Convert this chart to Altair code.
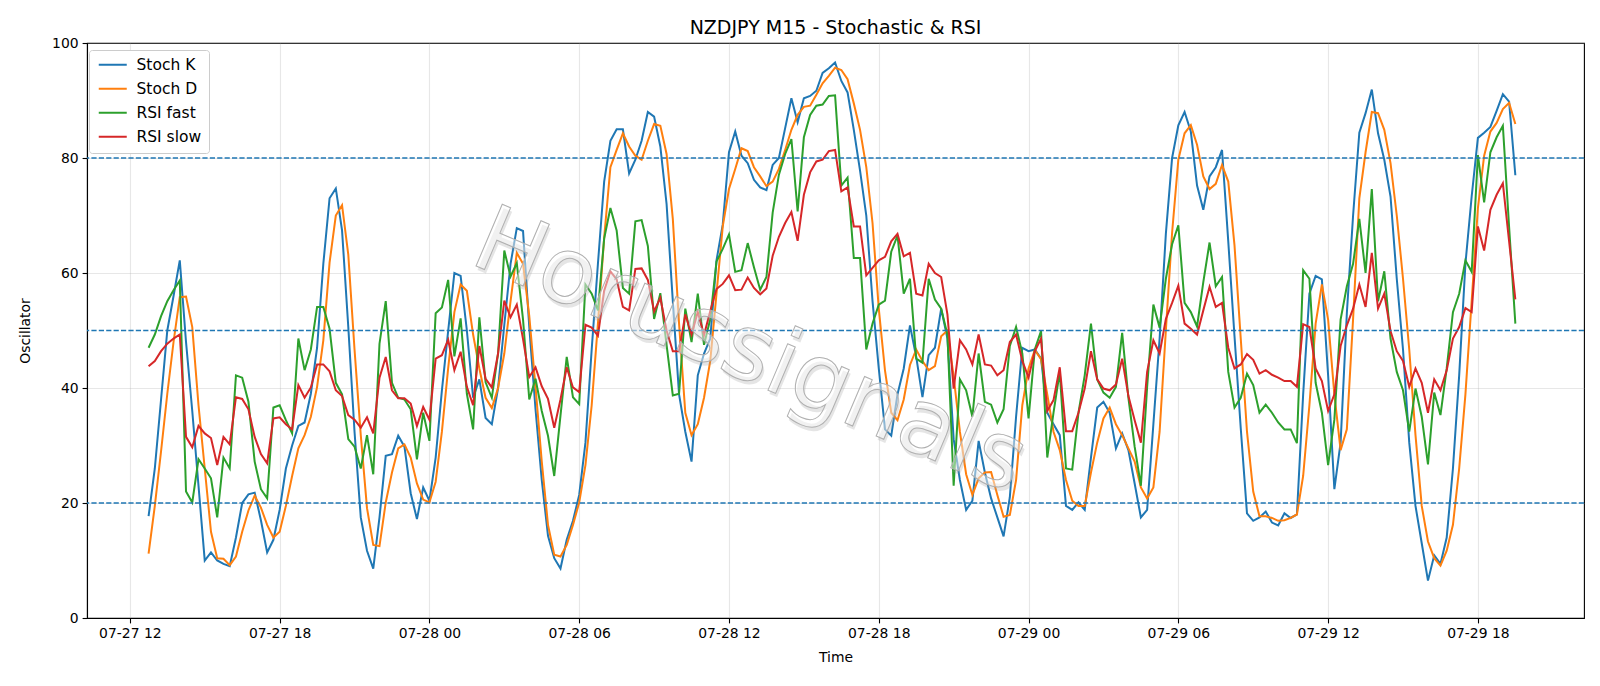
import altair as alt
import pandas as pd

# ---- oscillator values, one point every 15 minutes from 2025-07-27 12:45 ----
START = "2025-07-27 12:45"

STOCH_K = [
    17.7, 26, 38, 50, 56, 62.2, 48, 36, 23, 10,
    11.4, 10, 9.4, 9, 14, 20, 21.5, 21.8, 17, 11.4,
    13.6, 18.8, 26, 30, 33.4, 34, 39, 47, 61.6, 73,
    74.7, 67.4, 50.6, 32.4, 17.5, 11.7, 8.6, 17.5, 28.2, 28.5,
    31.7, 29.8, 21.7, 17.2, 22.7, 20.4, 27.9, 39.6, 49.9, 60,
    59.5, 50, 38.3, 41.5, 34.8, 33.7, 40, 51, 61.6, 67.8,
    67.3, 50.6, 36.3, 24, 14.3, 10.4, 8.6, 13.6, 16.9, 21.4,
    30.5, 46.7, 61.6, 75.9, 83, 85, 85, 77.3, 79.7, 83,
    88, 87.2, 82, 72, 55.1, 38.9, 32.4, 27.2, 42.2, 46,
    48.6, 62.2, 68.4, 81, 84.6, 80.4, 79.1, 76.2, 74.9, 74.4,
    78.8, 80, 85.2, 90.4, 86.2, 90.4, 90.8, 91.7, 94.8, 95.6,
    96.6, 93.4, 91.4, 84.9, 77.8, 70, 55.1, 43.4, 32.8, 31.7,
    38.9, 43.4, 50.9, 45.4, 38.4, 45.7, 47, 53.8, 48.6, 31.1,
    24, 18.8, 20.4, 30.8, 25.3, 20.8, 17.5, 14.2, 21, 35,
    47, 46.4, 46.7, 45.1, 35.7, 33.7, 31.8, 19.5, 18.8, 20.1,
    18.8, 27.9, 36.6, 37.6, 35.7, 29.5, 32.1, 29.2, 23.4, 17.5,
    18.8, 33.7, 48.6, 66.8, 80, 85.7, 88, 84.6, 75.2, 71,
    76.8, 78.4, 81.4, 65.5, 49, 33, 18.2, 16.9, 17.5, 18.5,
    16.6, 16.1, 18.2, 17.4, 18, 38.9, 56.4, 59.5, 58.9, 42.2,
    22.4, 30.5, 53, 70, 84.4, 87.8, 91.9, 84.3, 79.7, 73.3,
    59, 46.7, 30.5, 19.5, 13, 6.5, 10.9, 9.4, 14, 26,
    42.2, 61.6, 73.3, 83.5, 84.4, 85.4, 88.2, 91.1, 89.8, 77,
]

STOCH_D = [
    11.2, 19.5, 29, 39, 48, 55.8, 55.9, 50.6, 37, 26,
    15, 10.4, 10.3, 9.2, 10.7, 15, 18.7, 21.3, 19.2, 16.2,
    14, 15, 19.5, 24.7, 29.5, 31.8, 35, 40.2, 48.3, 61.8,
    70, 71.8, 63.2, 46.7, 31.8, 19.1, 12.7, 12.5, 20.1, 25.3,
    29.5, 30.2, 27.9, 23.4, 20.6, 20.1, 23.7, 32.4, 43.4, 53.2,
    58, 56.9, 49.3, 43.4, 38.3, 36.5, 40, 46, 55.1, 63.5,
    61.6, 52.5, 40.2, 27.2, 16.2, 11, 10.7, 12.7, 16.2, 20.1,
    26.6, 37, 51.2, 66.1, 78.4, 81.4, 84.3, 82, 80.4, 79.7,
    83, 85.9, 85.6, 80.7, 69.4, 51.2, 35.7, 31.8, 33.7, 38.3,
    44.7, 56.4, 68.1, 74.6, 78.1, 81.7, 81.2, 78.4, 76.8, 75.1,
    75.9, 78.1, 81.4, 84.9, 87.5, 88.9, 89.1, 91, 93, 94.3,
    95.7, 95.3, 93.7, 89.5, 84.9, 78.4, 68.7, 53.8, 43, 35.7,
    34.4, 38, 44, 46.7, 44.7, 43.1, 43.8, 49, 50, 42,
    32.4, 25, 21.4, 24.3, 25.3, 25.4, 21.4, 17.6, 17.9, 24,
    37, 43.4, 46.6, 45, 38.9, 32.4, 29.2, 24, 20.4, 19.5,
    19.5, 25.3, 30.5, 34.7, 36.6, 33.7, 31.8, 29.5, 27.2, 22.7,
    20.8, 22.7, 32.4, 50, 67, 79.7, 84.3, 85.7, 82.3, 76.8,
    74.6, 75.5, 78.8, 75.9, 64.8, 48.6, 32.4, 22, 17.7, 17.7,
    17.4, 16.9, 17, 17.4, 18, 24.7, 37, 51.2, 58, 51.9,
    38.9, 29.2, 32.8, 52, 73, 81, 88, 87.8, 84.9, 79.1,
    70, 59, 46.7, 31.8, 19.5, 13.3, 10.4, 9.1, 11.7, 16.2,
    26, 38.9, 55.1, 71.3, 80.4, 84.6, 86.1, 88.5, 89.6, 85.9,
]

RSI_FAST = [
    47, 49.3, 52.5, 55.1, 57, 58.7, 22, 20.1, 27.6, 26,
    24.3, 17.5, 27.9, 26, 42.2, 41.8, 37.6, 27.2, 22.4, 20.8,
    36.6, 37, 34.4, 32.1, 48.6, 43.1, 46.7, 54.1, 54.1, 50.3,
    40.9, 38.9, 31.1, 29.8, 26, 31.8, 25, 47.7, 55.1, 40.9,
    38.3, 38, 36.3, 27.6, 35.7, 30.8, 53, 54, 58.8, 45.5,
    52.1, 39, 32.8, 52.3, 41, 38.3, 46, 63.9, 59.4, 61.7,
    51.9, 38, 41.6, 36, 31.7, 24.7, 35.2, 45.4, 38.4, 37.2,
    58, 56.4, 53.5, 66, 71.3, 67.4, 57.4, 56.4, 69, 69.2,
    64.7, 52, 56.5, 47.5, 38.7, 39, 53.8, 48, 56.4, 47.5,
    52, 62, 64.2, 66.7, 60.2, 60.5, 65.2, 61, 57.1, 59.3,
    70.5, 77.1, 80.7, 83.3, 70.7, 83.6, 87.5, 89.1, 89.3, 90.8,
    90.9, 75.2, 76.6, 62.6, 62.6, 46.7, 51.2, 54.5, 55.2, 63.7,
    66.5, 56.4, 59, 45.1, 44.4, 59, 55.4, 53.8, 49.3, 23,
    41.5, 39.6, 35, 46, 37.6, 37.1, 34, 36.3, 47.3, 50.6,
    46, 34.7, 46.7, 49.9, 27.9, 35.7, 42.8, 26, 25.8, 35.7,
    42.2, 51.2, 41.5, 39.2, 38.3, 40.2, 49.6, 38.3, 29.8, 23,
    40.2, 54.5, 50.5, 59, 65, 68.3, 54.8, 53.2, 50.7, 58.4,
    65.3, 57.7, 59.3, 42.8, 36.6, 38.3, 42.5, 40.5, 35.7, 37.1,
    35.7, 34, 32.8, 32.8, 30.4, 60.5, 59, 40.9, 35.7, 26.6,
    34.5, 51.9, 57.7, 61.6, 69.4, 60, 74.6, 55.1, 60.3, 48.6,
    42.8, 39.6, 32.4, 39.9, 35, 26.7, 39.2, 35.3, 43.4, 53.2,
    56.4, 62.2, 60.2, 80.5, 72.3, 81, 83.6, 85.6, 68, 51.2,
]

RSI_SLOW = [
    43.8, 44.7, 46.4, 47.7, 48.6, 49.3, 31.5, 29.7, 33.4, 32.1,
    31.3, 26.6, 31.5, 30.2, 38.4, 38.1, 36.3, 31.5, 28.5, 26.9,
    34.7, 34.9, 33.7, 32.8, 40.5, 38.3, 40.1, 44.1, 44.1, 42.9,
    39.6, 38.6, 35.3, 34.5, 33.1, 34.9, 32.1, 41.8, 45.4, 39.6,
    38.2, 38.2, 37.3, 33.4, 36.7, 34.5, 45.1, 45.7, 48.4, 43.1,
    46.3, 40.2, 37, 47.3, 41.6, 40.1, 46, 55.2, 52.3, 54.5,
    48.5, 41.9, 43.6, 40.3, 38.1, 33.1, 38, 43.6, 40.1, 39.3,
    51, 50.5, 49.1, 56.9, 60.3, 58.9, 54.1, 53.5, 60.7, 60.8,
    58.8, 53.3, 55.7, 50, 46.4, 46.4, 52.8, 49.3, 53.2, 49.2,
    53.4, 57.2, 58.1, 59.6, 57, 57.1, 59.2, 57.4, 56.3, 57.3,
    63, 66.3, 68.7, 70.6, 65.6, 73.6, 77.5, 79.4, 79.7, 81.2,
    81.4, 74.2, 74.9, 68.1, 68.1, 59.6, 60.9, 62.2, 62.8, 65.5,
    66.8, 62.9, 63.5, 56.4, 56.1, 61.6, 60, 59.3, 52.8, 39.9,
    48.3, 46.7, 44.1, 49.3, 44.1, 43.9, 42.2, 43.1, 48, 49.3,
    44.7, 41.8, 46.4, 48.6, 36, 37.9, 43.6, 32.5, 32.5, 35.7,
    39.9, 46.4, 41.5, 39.9, 39.6, 40.6, 45.1, 38.6, 34.4, 30.5,
    42.8, 48.3, 46, 52, 54.8, 57.8, 51.2, 50.3, 49.3, 53.5,
    57.6, 54.1, 54.8, 47, 43.4, 44.1, 45.9, 44.9, 42.5, 43.1,
    42.3, 41.8, 41.2, 41.2, 40.2, 51.1, 50.6, 43.4, 41.2, 36,
    38.9, 47.3, 50.9, 53.8, 58, 54.1, 63.5, 53.8, 56.4, 49.9,
    46.4, 44.7, 40.2, 43.4, 40.9, 35.7, 41.5, 39.6, 43.1, 48.6,
    50.6, 53.9, 53.2, 68.1, 63.9, 71, 73.6, 75.6, 65.5, 55.4,
]

SERIES = ["Stoch K", "Stoch D", "RSI fast", "RSI slow"]
COLORS = ["#1f77b4", "#ff7f0e", "#2ca02c", "#d62728"]
LEVELS = [20, 50, 80]
Y_TICKS = [0, 20, 40, 60, 80, 100]
X_TICKS = [(27, 12), (27, 18), (28, 0), (28, 6), (28, 12), (28, 18),
           (29, 0), (29, 6), (29, 12), (29, 18)]
TITLE = "NZDJPY M15 - Stochastic & RSI"
WATERMARK = "Horussignals"

FONT = "DejaVu Sans"

times = pd.date_range(START, periods=len(STOCH_K), freq="15min")
wide = pd.DataFrame({"time": times, "Stoch K": STOCH_K, "Stoch D": STOCH_D,
                     "RSI fast": RSI_FAST, "RSI slow": RSI_SLOW})
long = wide.melt(id_vars="time", var_name="series", value_name="value")


def dt(day, hour, minute=0):
    return alt.DateTime(year=2025, month=7, date=day, hours=hour, minutes=minute)


x_scale = alt.Scale(domain=[dt(27, 10, 17), dt(29, 22, 15)])
y_scale = alt.Scale(domain=[0, 100], nice=False, zero=False)
x_axis = alt.Axis(values=[dt(d, h) for d, h in X_TICKS], format="%m-%d %H",
                  title="Time", labelFlush=False, labelOverlap=False,
                  titlePadding=10)
y_axis = alt.Axis(values=Y_TICKS, title="Oscillator", titlePadding=19)

# legend handle: a short horizontal stroke drawn from a custom path so the
# row height follows the label text rather than the handle length
color = alt.Color(
    "series:N",
    scale=alt.Scale(domain=SERIES, range=COLORS),
    legend=alt.Legend(
        title=None, orient="none", legendX=2, legendY=7,
        symbolType="M-2.8,0H2.8", symbolSize=100, symbolStrokeWidth=2,
        symbolOffset=9,
        labelFont=FONT, labelFontSize=15.5, labelColor="black",
        labelOffset=16, rowPadding=7, padding=7,
        fillColor="white", strokeColor="#cccccc", cornerRadius=3,
    ),
)

base = alt.Chart(long)
layers = []
for name in SERIES:
    layers.append(
        base.transform_filter(alt.datum.series == name)
        .mark_line(strokeWidth=2)
        .encode(
            x=alt.X("time:T", scale=x_scale, axis=x_axis),
            y=alt.Y("value:Q", scale=y_scale, axis=y_axis),
            color=color,
        )
    )

levels = alt.Chart(pd.DataFrame({"level": LEVELS})).mark_rule(
    color="#1f77b4", strokeDash=[5.2, 2.2], strokeWidth=1.4
).encode(y=alt.Y("level:Q", scale=y_scale, axis=y_axis))

# translucent stamp across the plot: soft shadow plus an outlined face
mark_df = pd.DataFrame({"label": [WATERMARK]})
shadow = alt.Chart(mark_df).mark_text(
    font=FONT, fontSize=92, angle=23, align="center", baseline="middle",
    fill="#9a9a9a", opacity=0.25, dx=3, dy=3,
).encode(text="label:N", x=alt.value(663), y=alt.value(309))
stamp = alt.Chart(mark_df).mark_text(
    font=FONT, fontSize=92, angle=23, align="center", baseline="middle",
    fill="white", fillOpacity=0.45, stroke="#b0b0b0", strokeWidth=1,
).encode(text="label:N", x=alt.value(663), y=alt.value(309))

chart = (
    alt.layer(*layers, levels, shadow, stamp)
    .properties(
        width=1497, height=575,
        title=alt.TitleParams(TITLE, font=FONT, fontSize=19,
                              fontWeight="normal", color="black", offset=-2),
        padding={"left": 87, "top": 43, "right": 16, "bottom": 68},
        autosize=alt.AutoSizeParams(type="none"),
    )
    .configure_view(stroke="black", strokeWidth=1.1)
    .configure_axis(
        labelFont=FONT, titleFont=FONT, labelFontSize=13.9, titleFontSize=13.9,
        labelColor="black", titleColor="black", titleFontWeight="normal",
        tickColor="black", domainColor="black", tickSize=4.9, tickWidth=1.1,
        domainWidth=1.1, labelPadding=4, gridColor="#b0b0b0",
        gridOpacity=0.3, gridWidth=1.1,
    )
)

chart.save("out.html", embed_options={"renderer": "svg", "actions": False})
